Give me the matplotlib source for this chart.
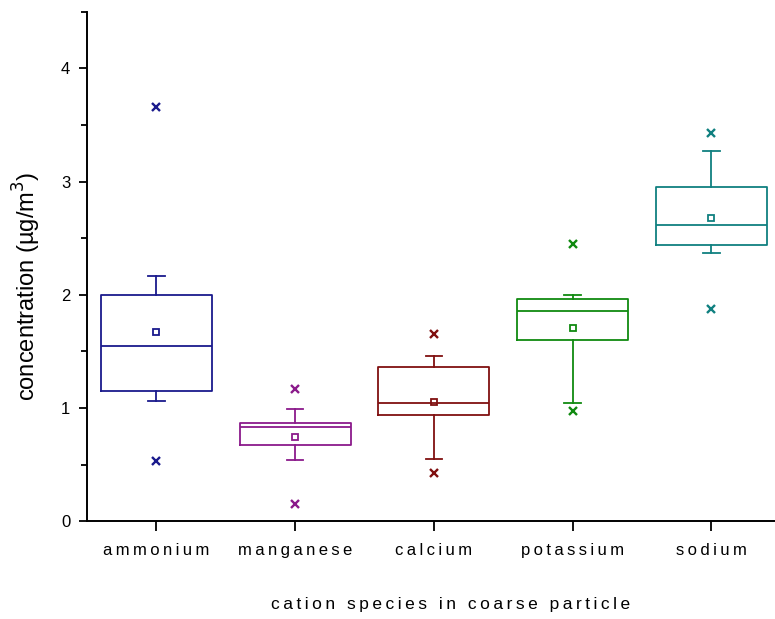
import matplotlib
matplotlib.use('Agg')
import matplotlib.pyplot as plt
from matplotlib.ticker import MultipleLocator

plt.rcParams['font.family'] = ['Liberation Sans', 'DejaVu Sans']

# ── 数据 ──
species = ['ammonium', 'manganese', 'calcium', 'potassium', 'sodium']
colors = ['#1a1a8c', '#8b1a8b', '#801010', '#108a10', '#108080']
whislo = [1.06, 0.54, 0.55, 1.045, 2.37]
q1 = [1.15, 0.67, 0.94, 1.60, 2.44]
med = [1.55, 0.83, 1.045, 1.86, 2.62]
q3 = [2.00, 0.87, 1.36, 1.96, 2.95]
whishi = [2.17, 0.99, 1.46, 2.00, 3.27]
means = [1.67, 0.74, 1.05, 1.71, 2.68]
out_lo = [0.53, 0.15, 0.43, 0.97, 1.87]
out_hi = [3.66, 1.17, 1.65, 2.45, 3.43]


def spaced(s, sep='\u2009'):
    return sep.join(s)


fig = plt.figure(figsize=(7.75, 6.19), dpi=100)
ax = fig.add_axes([0.1123, 0.158, 0.888, 0.823])

for i, c in enumerate(colors):
    st = [dict(whislo=whislo[i], q1=q1[i], med=med[i], q3=q3[i],
               whishi=whishi[i], mean=means[i],
               fliers=[out_lo[i], out_hi[i]])]
    lw = 1.3
    ax.bxp(st, positions=[i + 1], widths=0.8, capwidths=0.12,
           showmeans=True, patch_artist=False,
           boxprops=dict(color=c, linewidth=lw),
           medianprops=dict(color=c, linewidth=lw),
           whiskerprops=dict(color=c, linewidth=lw),
           capprops=dict(color=c, linewidth=lw),
           meanprops=dict(marker='s', markersize=5, markerfacecolor='none',
                          markeredgecolor=c, markeredgewidth=1.3),
           flierprops=dict(marker='x', markersize=5.5, markeredgecolor=c,
                           markeredgewidth=1.7, linestyle='none'))

ax.set_xlim(0.5, 5.46)
ax.set_ylim(0, 4.5)
ax.set_xticks(range(1, 6))
ax.set_xticklabels([spaced(s) for s in species], fontsize=12)
ax.yaxis.set_major_locator(MultipleLocator(1))
ax.yaxis.set_minor_locator(MultipleLocator(0.5))
ax.tick_params(axis='y', which='major', direction='out', length=6, width=1.3,
               labelsize=12, pad=6)
ax.tick_params(axis='y', which='minor', direction='out', length=4, width=1.3)
ax.tick_params(axis='x', which='major', direction='out', length=7, width=1.3,
               labelsize=12, pad=9)

for s in ['top', 'right']:
    ax.spines[s].set_visible(False)
for s in ['left', 'bottom']:
    ax.spines[s].set_linewidth(1.4)

ax.set_ylabel('concentration (\u00b5g/m$^3$)', fontsize=17)
ax.yaxis.set_label_coords(-0.064, 0.46)
ax.set_xlabel(spaced('cation species in coarse particle'), fontsize=12.5)
ax.xaxis.set_label_coords((450 - 87) / 688, -0.148)

fig.savefig('out.png', dpi=100)
